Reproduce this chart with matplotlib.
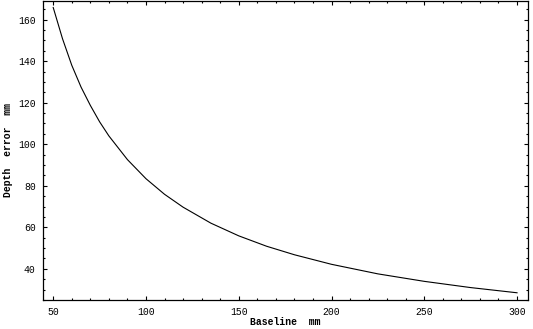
import matplotlib
matplotlib.use("Agg")
import matplotlib.pyplot as plt
from matplotlib.ticker import MultipleLocator

# Depth error vs. baseline
baseline = [50, 55, 60, 65, 70, 75, 80, 90, 100, 110, 120, 135, 150, 165, 180,
            200, 225, 250, 275, 300]
depth_error = [165.8, 150.8, 138.0, 127.5, 118.7, 110.8, 104.0, 92.6, 83.4, 75.9,
               69.7, 62.0, 55.9, 50.9, 46.8, 42.2, 37.6, 34.0, 31.0, 28.5]

plt.rcParams["font.family"] = "Liberation Mono"
plt.rcParams["font.size"] = 7

fig = plt.figure(figsize=(5.33, 3.29), dpi=100)
ax = fig.add_axes([0.080, 0.088, 0.9106, 0.910])

ax.plot(baseline, depth_error, color="black", linewidth=0.8)

ax.set_xlim(44.3, 305.9)
ax.set_ylim(25.0, 169.1)

ax.xaxis.set_major_locator(MultipleLocator(50))
ax.xaxis.set_minor_locator(MultipleLocator(10))
ax.yaxis.set_major_locator(MultipleLocator(20))
ax.yaxis.set_minor_locator(MultipleLocator(5))
ax.set_yticks([40, 60, 80, 100, 120, 140, 160])

ax.tick_params(which="both", direction="in", top=True, right=True, width=0.8)
ax.tick_params(which="major", length=3, pad=5)
ax.tick_params(which="minor", length=1.5)
for s in ax.spines.values():
    s.set_linewidth(0.9)

ax.set_xlabel("Baseline  mm", fontweight="bold", labelpad=0)
ax.set_ylabel("Depth  error  mm", fontweight="bold", labelpad=4)

fig.savefig("out.png", dpi=100)
